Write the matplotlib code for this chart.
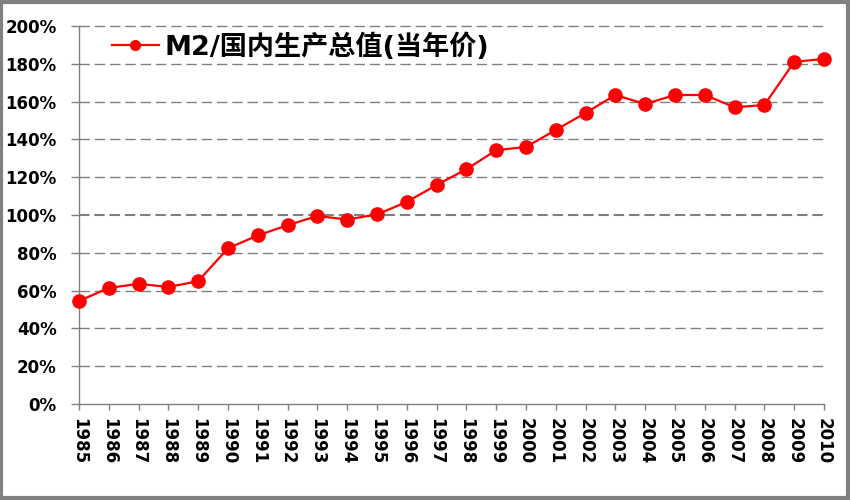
import matplotlib
matplotlib.use("Agg")
import matplotlib.pyplot as plt
from matplotlib.lines import Line2D
from matplotlib.patches import Rectangle
from matplotlib.ticker import FuncFormatter

years = ["1985", "1986", "1987", "1988", "1989", "1990", "1991", "1992", "1993",
         "1994", "1995", "1996", "1997", "1998", "1999", "2000", "2001", "2002",
         "2003", "2004", "2005", "2006", "2007", "2008", "2009", "2010"]
m2_gdp = [54.5, 61.4, 63.6, 61.9, 65.0, 82.4, 89.2, 94.6, 99.5, 97.6, 100.3, 106.9,
          115.9, 124.2, 134.3, 136.0, 145.0, 154.0, 163.5, 158.7, 163.5, 163.5,
          157.0, 158.2, 181.0, 182.6]
y_ticks = [0, 20, 40, 60, 80, 100, 120, 140, 160, 180, 200]
series_label = "M2/国内生产总值(当年价)"

plt.rcParams['font.family'] = ['DejaVu Sans', 'Noto Sans CJK SC']
plt.rcParams['lines.scale_dashes'] = False

fig = plt.figure(figsize=(8.5, 5), dpi=100)
ax = fig.add_axes([79/850, 1 - 404/500, (824-79)/850, (404-26)/500])

x = list(range(len(years)))
grid_c = '#808080'
for v in y_ticks[1:]:
    ax.axhline(v, color=grid_c, lw=1.5 if v == 100 else 1.0,
               dashes=(7.5, 3.5), zorder=1, clip_on=False)

ax.plot(x, m2_gdp, color='#ff0000', lw=1.6, marker='o', markersize=9.5,
        markerfacecolor='#ff0000', markeredgecolor='#ff0000', zorder=3, clip_on=False)

ax.set_xlim(0, len(years) - 1)
ax.set_ylim(0, 200)
ax.set_xticks(x)
ax.set_xticklabels(years, rotation=-90, fontsize=12, fontweight='bold')
ax.set_yticks(y_ticks)
ax.yaxis.set_major_formatter(FuncFormatter(lambda v, p: f"{int(v)}%"))
for t in ax.get_yticklabels():
    t.set_fontsize(12)
    t.set_fontweight('bold')

for s in ['top', 'right']:
    ax.spines[s].set_visible(False)
for s in ['left', 'bottom']:
    ax.spines[s].set_color(grid_c)
    ax.spines[s].set_linewidth(1.0)
ax.tick_params(axis='y', direction='out', length=6, width=1, color=grid_c, pad=10)
ax.tick_params(axis='x', direction='out', length=4, width=1, color=grid_c, pad=6)

handle = Line2D([], [], color='#ff0000', lw=1.6, marker='o', markersize=7)
ax.legend([handle], [series_label], loc='center left', bbox_to_anchor=(0.044, 0.944),
          frameon=False, handlelength=1.75, handletextpad=0.2, borderaxespad=0,
          borderpad=0,
          prop={'size': 19.5, 'weight': 'bold', 'family': ['DejaVu Sans', 'Noto Sans CJK SC']})

# figure border
fig.patches.append(Rectangle((0.0015, 0.005), 0.996, 0.992, transform=fig.transFigure,
                             fill=False, edgecolor='#808080', lw=3, zorder=10))

fig.savefig("out.png", dpi=100)
